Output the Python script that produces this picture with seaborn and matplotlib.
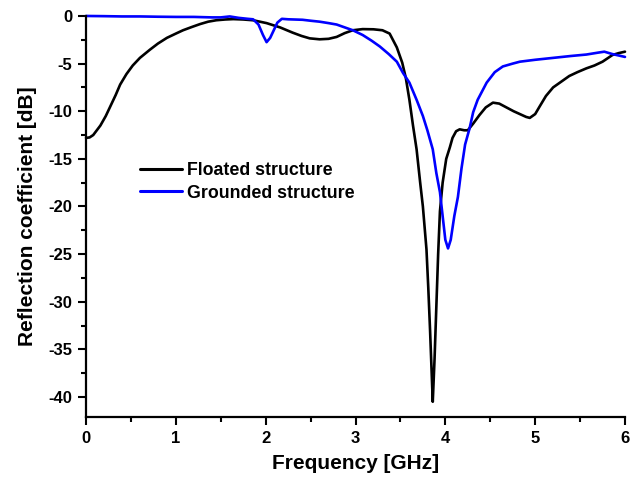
import numpy as np
import pandas as pd
import matplotlib
matplotlib.use("Agg")
import matplotlib.pyplot as plt
import seaborn as sns

floated_freq = [0.00, 0.04, 0.08, 0.12, 0.16, 0.22, 0.27, 0.33, 0.38, 0.45, 0.52, 0.60, 0.71, 0.80, 0.90,
                1.00, 1.08, 1.18, 1.27, 1.36, 1.45, 1.55, 1.64, 1.75, 1.86, 2.01, 2.16, 2.30, 2.40,
                2.49, 2.60, 2.70, 2.79, 2.88, 2.97, 3.08, 3.20, 3.30, 3.38, 3.46, 3.52, 3.56, 3.60,
                3.64, 3.68, 3.72, 3.75, 3.79, 3.81, 3.83, 3.85, 3.86, 3.88, 3.90, 3.92, 3.94, 3.97,
                4.01, 4.05, 4.08, 4.12, 4.16, 4.21, 4.25, 4.31, 4.38, 4.45, 4.53, 4.60, 4.68, 4.76,
                4.83, 4.90, 4.94, 5.00, 5.05, 5.12, 5.20, 5.29, 5.38, 5.47, 5.57, 5.66, 5.75, 5.86,
                5.93, 6.00]
floated_db = [-12.8, -12.75, -12.5, -12.0, -11.5, -10.5, -9.5, -8.3, -7.2, -6.1, -5.2, -4.4, -3.55, -2.9, -2.3,
              -1.85, -1.5, -1.15, -0.85, -0.6, -0.45, -0.37, -0.33, -0.37, -0.45, -0.75, -1.2, -1.75, -2.1,
              -2.35, -2.45, -2.4, -2.2, -1.8, -1.5, -1.38, -1.4, -1.5, -1.85, -3.3, -4.9, -6.5, -8.8,
              -11.5, -14.0, -17.5, -20.0, -24.5, -28.5, -33.0, -38.0, -40.5, -36.0, -30.5, -25.0, -20.5, -17.5,
              -15.0, -13.8, -12.8, -12.1, -11.9, -12.0, -12.0, -11.3, -10.4, -9.6, -9.1, -9.2, -9.6, -10.0,
              -10.3, -10.6, -10.7, -10.3, -9.5, -8.4, -7.5, -6.9, -6.3, -5.9, -5.5, -5.2, -4.8, -4.1,
              -3.9, -3.75]

grounded_freq = [0.00, 0.20, 0.40, 0.60, 0.80, 1.00, 1.20, 1.40, 1.50, 1.60, 1.70, 1.80, 1.86, 1.92,
                 1.97, 2.01, 2.05, 2.09, 2.13, 2.18, 2.25, 2.41, 2.50, 2.60, 2.70, 2.79, 2.88, 2.97,
                 3.08, 3.18, 3.27, 3.37, 3.46, 3.53, 3.60, 3.68, 3.75, 3.80, 3.86, 3.90, 3.94, 3.97,
                 4.00, 4.03, 4.06, 4.10, 4.14, 4.18, 4.22, 4.27, 4.31, 4.36, 4.46, 4.55, 4.64, 4.75,
                 4.83, 5.00, 5.20, 5.40, 5.57, 5.70, 5.77, 5.86, 6.00]
grounded_db = [0.0, -0.02, -0.05, -0.05, -0.08, -0.1, -0.1, -0.15, -0.15, -0.05, -0.2, -0.3, -0.35, -0.9,
               -2.0, -2.75, -2.3, -1.5, -0.7, -0.3, -0.35, -0.4, -0.5, -0.6, -0.75, -0.9, -1.2, -1.5,
               -2.0, -2.6, -3.2, -4.0, -4.8, -6.0, -7.0, -8.8, -10.5, -12.0, -14.0, -16.5, -18.5, -21.0,
               -23.5, -24.4, -23.5, -21.0, -19.0, -16.0, -13.5, -11.8, -10.1, -8.8, -7.0, -5.9, -5.3, -5.0,
               -4.8, -4.6, -4.4, -4.2, -4.05, -3.85, -3.75, -4.0, -4.3]

series_names = ["Floated structure", "Grounded structure"]
series_colors = ["#000000", "#0000FF"]

x_ticks = [0, 1, 2, 3, 4, 5, 6]
y_ticks = [0, -5, -10, -15, -20, -25, -30, -35, -40]

df = pd.concat([
    pd.DataFrame({"freq": floated_freq, "db": floated_db, "series": series_names[0]}),
    pd.DataFrame({"freq": grounded_freq, "db": grounded_db, "series": series_names[1]}),
], ignore_index=True)

sns.set_style("ticks")
plt.rcParams["font.family"] = ["Liberation Sans", "DejaVu Sans"]
plt.rcParams["font.weight"] = "bold"
plt.rcParams["text.color"] = "black"
plt.rcParams["axes.labelcolor"] = "black"
plt.rcParams["xtick.color"] = "black"
plt.rcParams["ytick.color"] = "black"

fig = plt.figure(figsize=(6.42, 4.78), dpi=100)
ax = fig.add_axes([0.134, 0.1276, 0.8395, 0.839])

sns.lineplot(data=df, x="freq", y="db", hue="series", palette=series_colors,
             hue_order=series_names, estimator=None, sort=False, linewidth=1.9, ax=ax)
for ln in ax.get_lines():
    ln.set_clip_on(False)

ax.set_xlim(0, 6)
ax.set_ylim(-42.1, 0)
ax.set_xticks(x_ticks)
ax.set_xticks(np.arange(0.5, 6, 1.0), minor=True)
ax.set_yticks(y_ticks)
ax.set_yticks(np.arange(-2.5, -42, -5.0), minor=True)
ax.set_xticklabels([str(t) for t in x_ticks], fontsize=12, fontweight="bold", color="black")
ax.set_yticklabels([str(t) for t in y_ticks], fontsize=12, fontweight="bold", color="black")
ax.tick_params(axis="both", which="major", direction="out", length=6, width=1.5, colors="black", pad=4)
ax.tick_params(axis="both", which="minor", direction="out", length=3.5, width=1.5, colors="black")
for side in ["top", "right"]:
    ax.spines[side].set_visible(False)
for side in ["left", "bottom"]:
    ax.spines[side].set_linewidth(1.6)
    ax.spines[side].set_color("black")

ax.set_xlabel("Frequency [GHz]", fontsize=15, fontweight="bold", labelpad=6, color="black")
ax.set_ylabel("Reflection coefficient [dB]", fontsize=15, fontweight="bold", labelpad=8, color="black")

leg = ax.legend(loc="upper left", bbox_to_anchor=(0.07, 0.675), frameon=False,
                prop={"size": 12.8, "weight": "bold"}, handlelength=2.4, handletextpad=0.25,
                labelspacing=0.3)
for t in leg.get_texts():
    t.set_color("black")
for h in leg.get_lines():
    h.set_linewidth(2.2)

fig.savefig("out.png", dpi=100)
